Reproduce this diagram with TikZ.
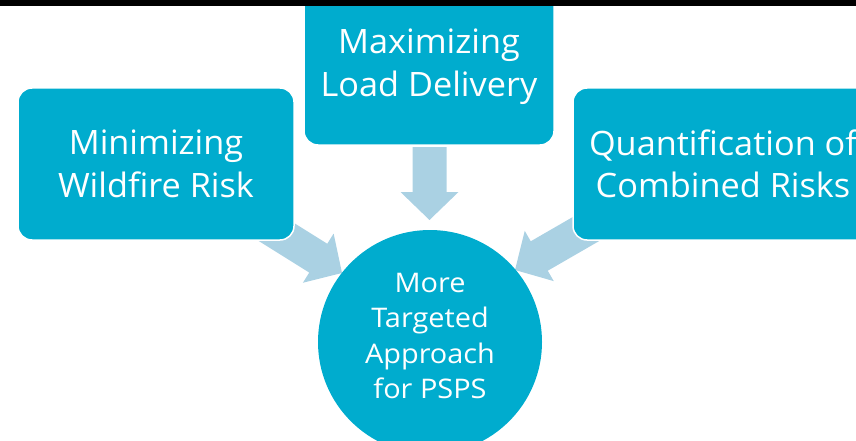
\documentclass[tikz,border=0pt]{standalone}
\usepackage{fontspec}
\setmainfont{Open Sans}
\newfontfamily\hubfont[FakeStretch=1.07]{Open Sans}
\newfontfamily\boxfont[FakeStretch=1.02]{Open Sans}
\definecolor{boxteal}{RGB}{0,172,206}
\definecolor{arrowblue}{RGB}{170,209,227}
\newcommand\blockarrow[3]{% tip coordinate, visual angle, back length
  \begin{scope}[shift={(#1)}, rotate=#2]
    \fill[arrowblue] (0,0) -- (-28,29) -- (-28,17) -- (-#3,17) -- (-#3,-17) -- (-28,-17) -- (-28,-29) -- cycle;
  \end{scope}}
\begin{document}
\begin{tikzpicture}[x=1pt,y=-1pt,
  box/.style={draw=white, line width=1.5pt, fill=boxteal, rounded corners=14pt,
    text=white, align=center, inner sep=0pt,
    font=\boxfont\fontsize{33.6}{42.5}\selectfont},
  hub/.style={circle, fill=boxteal, text=white, align=center, inner sep=0pt,
    font=\hubfont\fontsize{27}{35.5}\selectfont}]
\useasboundingbox (0,0) rectangle (856,441);
\clip (0,0) rectangle (856,441);
% tips of the block arrows
\coordinate (tipL) at (342,273);
\coordinate (tipM) at (429.5,220);
\coordinate (tipR) at (515,270);
\blockarrow{tipL}{-32}{110}
\blockarrow{tipM}{-90}{73}
\blockarrow{tipR}{-150}{110}
% boxes
\node[box, minimum width=276pt, minimum height=152pt] (wild) at (156,164) {Minimizing\\Wildfire Risk};
\node[box, minimum width=250pt, minimum height=157pt] (load) at (429,66.5) {Maximizing\\Load Delivery};
\node[box, minimum width=300pt, minimum height=152pt] (risk) at (723,164) {Quantification of\\Combined Risks};
% hub
\node[hub, minimum size=224pt] (hub) at (430,342) {More\\Targeted\\Approach\\for PSPS\rule[-12pt]{0pt}{0pt}};
% top band
\fill[black] (0,0) rectangle (856,6);
\end{tikzpicture}
\end{document}
